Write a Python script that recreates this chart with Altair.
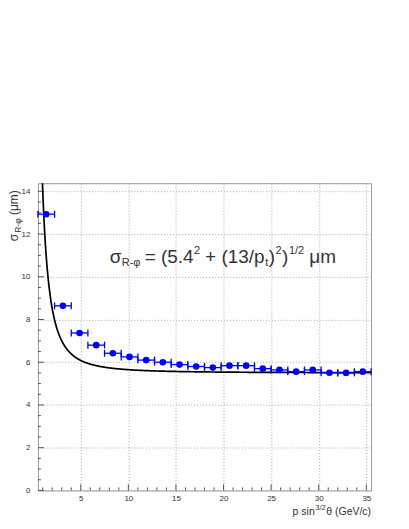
import altair as alt
import pandas as pd

# ---- data ----
p_center = [1.375, 3.125, 4.875, 6.625, 8.375, 10.125, 11.875, 13.625, 15.375, 17.125,
            18.875, 20.625, 22.375, 24.125, 25.875, 27.625, 29.375, 31.125, 32.875, 34.625]
sigma_rphi = [12.93, 8.64, 7.37, 6.80, 6.42, 6.25, 6.10, 6.00, 5.89, 5.80,
              5.75, 5.84, 5.84, 5.70, 5.64, 5.56, 5.64, 5.51, 5.50, 5.56]
p_halfwidth = 0.875
fit_a = 5.5
fit_b = 13.0

x_major = [5, 10, 15, 20, 25, 30, 35]
x_minor = [v for v in range(1, 36) if v % 5 != 0]
y_major = [0, 2, 4, 6, 8, 10, 12, 14]
y_minor = [v / 2 for v in range(1, 29) if v % 4 != 0]

W, H = 334, 308
FONT = "Liberation Sans"
TXT = "#333333"
BLUE = "#0000ff"

xscale = alt.Scale(domain=[0.5, 35.5], nice=False, zero=False)
yscale = alt.Scale(domain=[0, 14.38], nice=False, zero=False)
xaxis = alt.Axis(values=x_major, title=None, grid=True, gridDash=[1, 2], gridColor="#aaaaaa",
                 ticks=False, tickSize=0, domain=False, labelPadding=4, labelFont=FONT,
                 labelFontSize=8, labelColor=TXT, labelFlush=False)
yaxis = alt.Axis(values=y_major, title=None, grid=True, gridDash=[1, 2], gridColor="#aaaaaa",
                 ticks=False, tickSize=0, domain=False, labelPadding=8, labelFont=FONT,
                 labelFontSize=8, labelColor=TXT, labelFlush=False)

df = pd.DataFrame({"p": p_center, "s": sigma_rphi})
df["lo"] = df["p"] - p_halfwidth
df["hi"] = df["p"] + p_halfwidth

curve = alt.Chart(alt.sequence(0.9, 35.5, 0.01, as_="p")).transform_calculate(
    s=f"sqrt({fit_a}*{fit_a} + pow({fit_b}/datum.p, 2))"
).mark_line(color="black", strokeWidth=1.7, clip=True).encode(
    x=alt.X("p:Q", scale=xscale, axis=xaxis),
    y=alt.Y("s:Q", scale=yscale, axis=yaxis),
)

base = alt.Chart(df)
ebar = base.mark_rule(color=BLUE, strokeWidth=1.3).encode(
    x=alt.X("lo:Q", scale=xscale, axis=xaxis), x2="hi:Q",
    y=alt.Y("s:Q", scale=yscale, axis=yaxis))
cap_lo = base.mark_point(shape="M0,-1L0,1", size=49, color=BLUE, filled=False, strokeWidth=1.3, opacity=1).encode(
    x=alt.X("lo:Q", scale=xscale, axis=xaxis), y=alt.Y("s:Q", scale=yscale, axis=yaxis))
cap_hi = base.mark_point(shape="M0,-1L0,1", size=49, color=BLUE, filled=False, strokeWidth=1.3, opacity=1).encode(
    x=alt.X("hi:Q", scale=xscale, axis=xaxis), y=alt.Y("s:Q", scale=yscale, axis=yaxis))
pts = base.mark_circle(color=BLUE, size=44, opacity=1).encode(
    x=alt.X("p:Q", scale=xscale, axis=xaxis), y=alt.Y("s:Q", scale=yscale, axis=yaxis))

def xticks(vals, ln):
    return alt.Chart(pd.DataFrame({"v": vals})).mark_rule(color="#555555", strokeWidth=1).encode(
        x=alt.X("v:Q", scale=xscale, axis=xaxis), y=alt.value(H), y2=alt.value(H - ln))

def yticks(vals, ln):
    return alt.Chart(pd.DataFrame({"v": vals})).mark_rule(color="#555555", strokeWidth=1).encode(
        y=alt.Y("v:Q", scale=yscale, axis=yaxis), x=alt.value(0), x2=alt.value(ln))

one = pd.DataFrame({"a": [0]})

def txt(t, x, y, size, align="left", angle=0):
    kw = dict(text=t, align=align, baseline="alphabetic", font=FONT, fontSize=size, color=TXT)
    if angle:
        kw["angle"] = angle
    return alt.Chart(one).mark_text(**kw).encode(x=alt.value(x), y=alt.value(y))

# formula pieces: (text, x, y, size)
FB, FSUB, FSUP = 79.5, 83, 71
formula = [
    ("σ", 72, FB, 19), ("R-φ", 84, FSUB, 11), ("= (5.4", 107, FB, 19), ("2", 156.5, FSUP, 11),
    ("+", 167.5, FB, 19), ("(13/p", 184, FB, 19), ("t", 228, FSUB, 11), (")", 231.5, FB, 19),
    ("2", 238.3, FSUP, 11), (")", 244.8, FB, 19), ("1/2", 251.6, FSUP, 11), ("μm", 272, FB, 19),
]
xtitle = [("θ (GeV/c)", W, 333, 10.5, "right"), ("3/2", W - 45.5, 328, 7.5, "right"),
          ("p sin", W - 56.5, 333, 10.5, "right")]
ytitle = [("(μm)", -19.5, 7, 12), ("R-φ", -16.5, 35.2, 8.5), ("σ", -19.5, 50.7, 12)]

layers = [xticks(x_minor, 3), xticks(x_major, 6), yticks(y_minor, 3), yticks(y_major, 6),
          curve, ebar, cap_lo, cap_hi, pts]
layers += [txt(t, x, y, s) for t, x, y, s in formula]
layers += [txt(t, x, y, s, a) for t, x, y, s, a in xtitle]
layers += [txt(t, x, y, s, "right", 270) for t, x, y, s in ytitle]

chart = alt.layer(*layers).properties(
    width=W, height=H,
    padding={"left": 30, "top": 175, "right": 30, "bottom": 30},
    autosize=alt.AutoSizeParams(type="none"),
).configure_view(stroke="#999999", strokeWidth=1)

chart.save("out.html", embed_options={"renderer": "svg", "actions": False})
